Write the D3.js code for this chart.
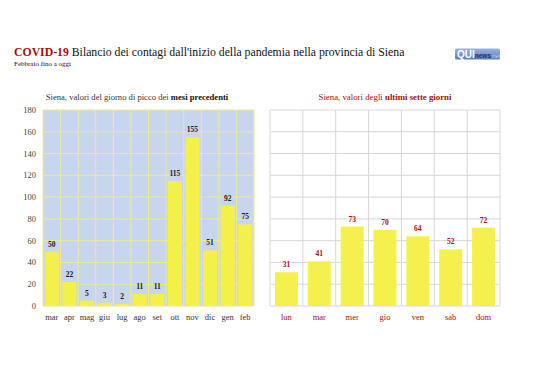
<!DOCTYPE html>
<html><head><meta charset="utf-8">
<script src="https://cdn.jsdelivr.net/npm/d3@7"></script>
<style>body{margin:0;background:#fff}svg{display:block}</style>
</head><body>
<script>
const months = ["mar","apr","mag","giu","lug","ago","set","ott","nov","dic","gen","feb"];
const monthValues = [50,22,5,3,2,11,11,115,155,51,92,75];
const days = ["lun","mar","mer","gio","ven","sab","dom"];
const dayValues = [31,41,73,70,64,52,72];
const yTicks = [0,20,40,60,80,100,120,140,160,180];

const W=538,H=380;
const svg=d3.select("body").append("svg").attr("width",W).attr("height",H);
const serif="'Liberation Serif','DejaVu Serif',serif";
const red="#a80d0d";

// title
const t=svg.append("text").attr("x",14).attr("y",56).attr("font-family",serif).attr("font-size",13);
t.append("tspan").attr("fill",red).attr("font-weight","bold").text("COVID-19");
t.append("tspan").attr("fill","#111").text(" Bilancio dei contagi dall'inizio della pandemia nella provincia di Siena");
const tw=t.node().getComputedTextLength();
t.attr("font-size",13*391/tw);
svg.append("text").attr("x",14).attr("y",66).attr("font-family",serif).attr("font-size",7).attr("fill","#111").text("Febbraio fino a oggi");

// logo
const defs=svg.append("defs");
const g=defs.append("linearGradient").attr("id","lg").attr("x1",0).attr("x2",0).attr("y1",0).attr("y2",1);
g.append("stop").attr("offset",0).attr("stop-color","#9db3e0");
g.append("stop").attr("offset",1).attr("stop-color","#5a7cc0");
svg.append("rect").attr("x",455).attr("y",48.5).attr("width",45).attr("height",11).attr("rx",1.5).attr("fill","url(#lg)");
const lt=svg.append("text").attr("x",457).attr("y",58).attr("font-family","'Liberation Sans',Arial,sans-serif");
lt.append("tspan").attr("font-size",10).attr("font-weight","bold").attr("fill","#fff").text("QUI");
lt.append("tspan").attr("font-size",6.5).attr("font-weight","bold").attr("fill","#1d2f66").text("news");
lt.append("tspan").attr("font-size",5.5).attr("fill","#c4d0ee").text(".net");

const y=d3.scaleLinear().domain([0,180]).range([306,110]);

// LEFT CHART
const xL=d3.scaleBand().domain(months).range([43,254]);
svg.append("rect").attr("x",43).attr("y",110).attr("width",211).attr("height",196).attr("fill","#c8d5ef");
const gl=svg.append("g");
gl.selectAll(".h").data(yTicks).join("line").attr("x1",43).attr("x2",254).attr("y1",d=>y(d)).attr("y2",d=>y(d)).attr("stroke","#eeea90").attr("stroke-width",1);
gl.selectAll(".v").data(months.concat(["_end"])).join("line")
  .attr("x1",(d,i)=>43+i*xL.step()).attr("x2",(d,i)=>43+i*xL.step()).attr("y1",110).attr("y2",306).attr("stroke","#eeea90").attr("stroke-width",1);
svg.append("g").selectAll("rect").data(monthValues).join("rect")
  .attr("x",(d,i)=>xL(months[i])+xL.bandwidth()*0.1).attr("width",xL.bandwidth()*0.8)
  .attr("y",d=>y(d)).attr("height",d=>y(0)-y(d)).attr("fill","#f4f04a");
svg.append("g").selectAll("text").data(monthValues).join("text")
  .attr("x",(d,i)=>xL(months[i])+xL.bandwidth()/2).attr("y",d=>y(d)-5)
  .attr("text-anchor","middle").attr("font-family",serif).attr("font-size",7.5).attr("font-weight","bold").attr("fill","#1a1a1a").text(d=>d);
svg.append("g").selectAll("text").data(yTicks).join("text")
  .attr("x",36).attr("y",d=>y(d)+3).attr("text-anchor","end").attr("font-family",serif).attr("font-size",8.5).attr("fill","#444").text(d=>d);
svg.append("g").selectAll("text").data(months).join("text")
  .attr("x",d=>xL(d)+xL.bandwidth()/2).attr("y",320).attr("text-anchor","middle").attr("font-family",serif).attr("font-size",8.5).attr("fill","#333").text(d=>d);
const sl=svg.append("text").attr("x",137).attr("y",100).attr("text-anchor","middle").attr("font-family",serif).attr("font-size",8.6).attr("fill","#333");
sl.append("tspan").text("Siena, valori del giorno di picco dei ");
sl.append("tspan").attr("font-weight","bold").attr("fill","#111").text("mesi precedenti");

// RIGHT CHART
const xR=d3.scaleBand().domain(days).range([270,500]);
const gr=svg.append("g");
gr.selectAll("line.h").data(yTicks).join("line").attr("class","h").attr("x1",270).attr("x2",500).attr("y1",d=>y(d)).attr("y2",d=>y(d)).attr("stroke","#d6d6d6").attr("stroke-width",1);
gr.selectAll("line.v").data(days.concat(["_end"])).join("line").attr("class","v")
  .attr("x1",(d,i)=>270+i*xR.step()).attr("x2",(d,i)=>270+i*xR.step()).attr("y1",110).attr("y2",306).attr("stroke","#d6d6d6").attr("stroke-width",1);
svg.append("g").selectAll("rect").data(dayValues).join("rect")
  .attr("x",(d,i)=>xR(days[i])+xR.bandwidth()*0.15).attr("width",xR.bandwidth()*0.7)
  .attr("y",d=>y(d)).attr("height",d=>y(0)-y(d)).attr("fill","#f4f04e");
svg.append("g").selectAll("text").data(dayValues).join("text")
  .attr("x",(d,i)=>xR(days[i])+xR.bandwidth()/2).attr("y",d=>y(d)-5)
  .attr("text-anchor","middle").attr("font-family",serif).attr("font-size",7.5).attr("font-weight","bold").attr("fill",red).text(d=>d);
svg.append("g").selectAll("text").data(days).join("text")
  .attr("x",d=>xR(d)+xR.bandwidth()/2).attr("y",320).attr("text-anchor","middle").attr("font-family",serif).attr("font-size",8.5).attr("fill",red).text(d=>d);
const sr=svg.append("text").attr("x",385).attr("y",100).attr("text-anchor","middle").attr("font-family",serif).attr("font-size",8.8).attr("fill",red);
sr.append("tspan").text("Siena, valori degli ");
sr.append("tspan").attr("font-weight","bold").text("ultimi sette giorni");
</script>
</body></html>
